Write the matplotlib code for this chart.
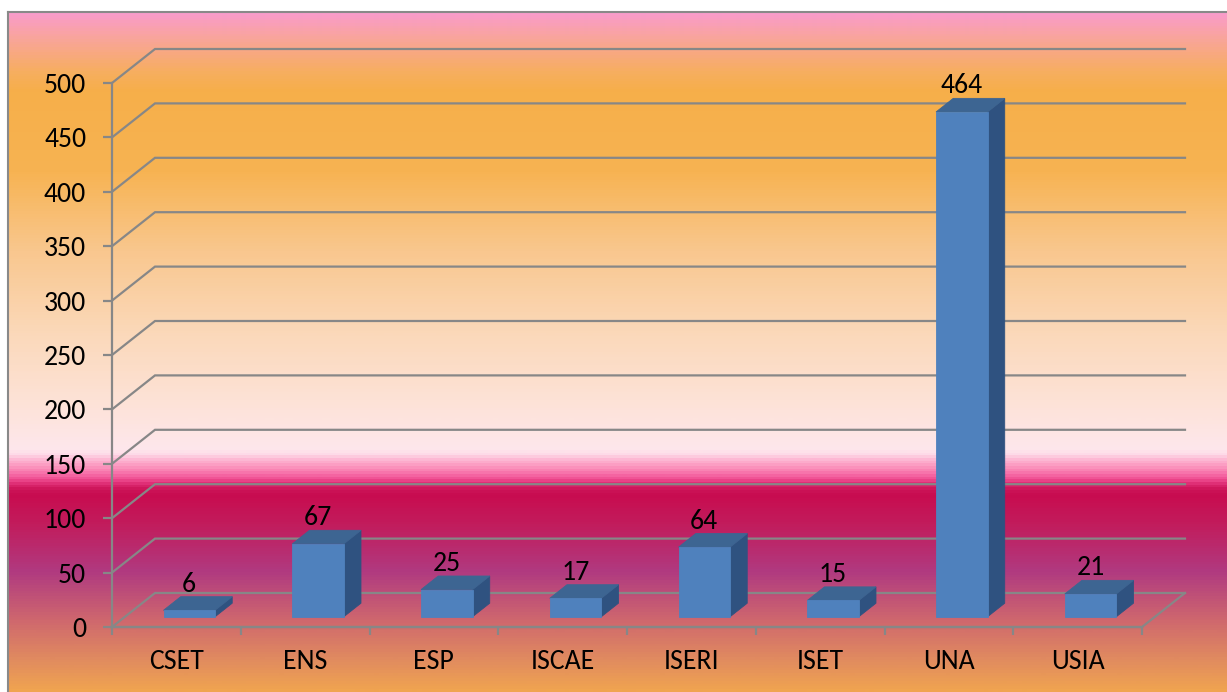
import matplotlib.pyplot as plt
import numpy as np
from matplotlib.colors import LinearSegmentedColormap
from matplotlib.patches import Polygon

categories = ['CSET', 'ENS', 'ESP', 'ISCAE', 'ISERI', 'ISET', 'UNA', 'USIA']
values = [6, 67, 25, 17, 64, 15, 464, 21]
yticks = [0, 50, 100, 150, 200, 250, 300, 350, 400, 450, 500]

W, H = 1227, 692
FONT = ['Carlito', 'Lato', 'DejaVu Sans']
FS = 20
GRID = '#878787'

# oblique depth of the floor, in data units (x: categories, y: values)
DX, DY = 0.334, 31.25
D0, D1 = 0.3, 0.7          # bar depth span
BAR_W = 0.4

FRONT = '#4F81BD'
TOP = '#3D6592'
SIDE = '#2F5280'

fig = plt.figure(figsize=(W / 100, H / 100), dpi=100)
fig.patch.set_facecolor('white')

# gradient background (chart area fill)
stops = [
    (12, '#F99CCB'), (35, '#F9A49E'), (70, '#F7AE60'), (90, '#F6AF4A'),
    (170, '#F7B352'), (250, '#F9C78E'), (330, '#FBD8B8'), (400, '#FDE2D6'),
    (450, '#FEE7EC'), (455, '#FEDAE8'), (460, '#FDB8D4'), (465, '#FCA0C4'),
    (470, '#FA88B6'), (475, '#F66AA6'), (480, '#EE4C90'), (485, '#DC2870'),
    (490, '#CC1458'), (496, '#C80C50'), (525, '#C21C5C'), (573, '#B03A80'),
    (620, '#CE666E'), (660, '#E08A60'), (692, '#F0A450'),
]
pos = [(y - 12) / (692 - 12) for y, _ in stops]
cmap = LinearSegmentedColormap.from_list('bg', list(zip(pos, [c for _, c in stops])))
bg = fig.add_axes([8 / W, 0, 1 - 8 / W, (H - 12) / H])
bg.imshow(np.linspace(0, 1, 680)[:, None], aspect='auto', cmap=cmap,
          extent=(0, 1, 0, 1), interpolation='bilinear')
bg.set_xticks([])
bg.set_yticks([])
for s in ['right', 'bottom']:
    bg.spines[s].set_visible(False)
for s in ['left', 'top']:
    bg.spines[s].set_color('#898989')
    bg.spines[s].set_linewidth(1.5)

# main axes, mapped so x=0 -> px 112, x=8 -> px 1142, y=0 -> px 627, y=500 -> px 83
ax = fig.add_axes([0, 0, 1, 1])
ax.patch.set_alpha(0)
sx = (1142 - 112) / 8
sy = (627 - 83) / 500
ax.set_xlim(-112 / sx, (W - 112) / sx)
ax.set_ylim(-(H - 627) / sy, 627 / sy)

n = len(categories)

# back wall gridlines and floor
for v in yticks:
    ax.plot([0, DX, n + DX], [v, v + DY, v + DY], color=GRID, lw=1.6,
            solid_joinstyle='miter', zorder=1)
ax.plot([0, n, n + DX], [0, 0, DY], color=GRID, lw=1.6, zorder=1)

# 3D bars
for i, v in enumerate(values):
    x0 = i + 0.5 - BAR_W / 2 + D0 * DX
    x1 = x0 + BAR_W
    y0 = D0 * DY
    ddx = (D1 - D0) * DX
    ddy = (D1 - D0) * DY
    front = [(x0, y0), (x1, y0), (x1, y0 + v), (x0, y0 + v)]
    top = [(x0, y0 + v), (x1, y0 + v), (x1 + ddx, y0 + v + ddy), (x0 + ddx, y0 + v + ddy)]
    side = [(x1, y0), (x1 + ddx, y0 + ddy), (x1 + ddx, y0 + v + ddy), (x1, y0 + v)]
    for pts, col in [(side, SIDE), (top, TOP), (front, FRONT)]:
        ax.add_patch(Polygon(pts, closed=True, facecolor=col, edgecolor=col,
                             lw=0.6, zorder=3))
    ax.annotate(str(v), xy=((x0 + x1) / 2, y0 + v + ddy), xytext=(0, 0),
                textcoords='offset points', ha='center', va='bottom',
                fontsize=FS, family=FONT, zorder=4)

# axes lines and ticks
for s in ['top', 'right']:
    ax.spines[s].set_visible(False)
ax.spines['left'].set_position(('data', 0))
ax.spines['bottom'].set_position(('data', 0))
ax.spines['left'].set_bounds(0, 500)
ax.spines['bottom'].set_bounds(0, n)
for s in ['left', 'bottom']:
    ax.spines[s].set_color(GRID)
    ax.spines[s].set_linewidth(1.6)
    ax.spines[s].set_zorder(2)

ax.set_yticks(yticks)
ax.set_yticklabels([str(t) for t in yticks], fontsize=FS, family=FONT)
ax.set_xticks(range(n + 1))
ax.set_xticklabels([])
ax.set_xticks(np.arange(n) + 0.5, minor=True)
ax.set_xticklabels(categories, minor=True, fontsize=FS, family=FONT)
ax.tick_params(axis='y', length=6.5, width=1.6, color=GRID, pad=12)
ax.tick_params(axis='x', which='major', length=5.5, width=1.6, color=GRID)
ax.tick_params(axis='x', which='minor', length=0, pad=16)

fig.savefig('out.png', dpi=100)
